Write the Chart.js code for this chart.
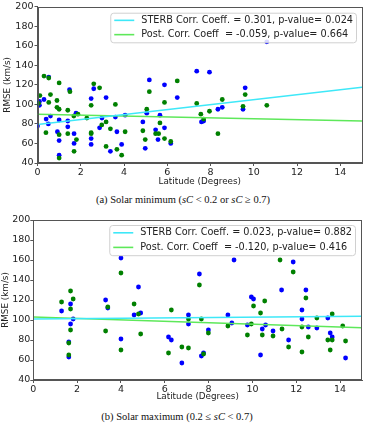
<!DOCTYPE html>
<html>
<head>
<meta charset="utf-8">
<script src="https://cdn.jsdelivr.net/npm/chart.js@4.4.1/dist/chart.umd.min.js"></script>
<style>
  body { margin: 0; background: #fff; width: 366px; height: 423px; position: relative; overflow: hidden; }
  .plot { position: absolute; left: 0; width: 366px; }
  .caption { position: absolute; left: 0; width: 366px; text-align: center; font-family: "Liberation Serif", serif; font-size: 10.5px; color: #111; line-height: 12px; }
</style>
</head>
<body>
<div class="plot" style="top:0;height:190px"><canvas id="minChart"></canvas></div>
<div class="caption" id="capA" style="top:194px">(a) Solar minimum (<i>sC</i> &lt; 0.2 or <i>sC</i> &ge; 0.7)</div>
<div class="plot" style="top:210px;height:192px"><canvas id="maxChart"></canvas></div>
<div class="caption" id="capB" style="top:411px;left:-6px">(b) Solar maximum (0.2 &le; <i>sC</i> &lt; 0.7)</div>
<script>
// axis ticks
const xTicks = [0, 2, 4, 6, 8, 10, 12, 14];
const yTicks = [40, 60, 80, 100, 120, 140, 160, 180, 200];

// (a) solar minimum: [latitude, RMSE]
const minSterb = [
  [0, 78], [0.09, 103], [0.09, 99], [0.3, 105], [0.52, 128], [0.5, 80], [0.4, 85], [0.6, 88],
  [1.0, 84], [0.92, 72], [1.0, 63], [1.0, 48], [1.4, 83], [1.4, 77], [1.48, 115], [1.69, 70],
  [1.69, 60], [1.78, 91], [2.48, 106], [2.48, 65], [2.48, 59], [2.6, 116], [3.17, 107], [2.98, 86],
  [2.87, 76], [3.37, 52], [3.6, 87], [3.67, 72], [3.89, 59], [4.05, 89], [4.87, 82], [4.98, 55],
  [5.05, 91], [5.17, 125], [5.46, 74], [5.57, 64], [5.66, 89], [5.87, 120], [5.87, 76], [6.16, 60],
  [6.46, 107], [7.36, 134], [7.95, 133], [7.58, 82], [7.68, 83], [8.34, 95], [8.54, 97], [9.5, 95],
  [9.6, 117], [10.6, 164]
];
const minPost = [
  [0.3, 129], [0.52, 127], [0.11, 109], [0.6, 110], [0.05, 101], [0.52, 102], [0.9, 104], [0.9, 97],
  [1.0, 95], [1.0, 122], [0.39, 71], [1.0, 69], [1.0, 45], [1.4, 94], [1.4, 70], [1.5, 113],
  [1.69, 52], [1.68, 88], [1.87, 90], [1.8, 64], [2.28, 86], [2.48, 99], [2.48, 71], [2.48, 70],
  [2.6, 121], [2.87, 117], [2.97, 79], [3.17, 82], [3.17, 57], [3.37, 75], [3.6, 100], [3.67, 54],
  [3.89, 48], [4.05, 72], [4.87, 73], [4.98, 64], [5.05, 95], [5.17, 113], [5.46, 70], [5.6, 70],
  [5.66, 81], [5.87, 102], [5.87, 65], [6.16, 62], [6.46, 124], [7.36, 101], [7.55, 90], [7.68, 85],
  [7.95, 93], [8.34, 70], [8.54, 105], [9.5, 98], [9.6, 110], [10.6, 99]
];
const minSterbFit = [[0, 79.5], [15, 117.5]];
const minPostFit = [[0, 90], [15, 83]];
const minLabels = ['STERB Corr. Coeff. = 0.301, p-value= 0.024', 'Post. Corr. Coeff  = -0.059, p-value= 0.664'];

// (b) solar maximum
const maxSterb = [
  [1.29, 109], [1.7, 116], [1.82, 101], [1.7, 96], [1.62, 78], [1.62, 63], [3.3, 120], [3.4, 112],
  [4.0, 162], [4.0, 81], [4.8, 133], [4.6, 105], [4.9, 107], [6.17, 83], [6.3, 80], [6.78, 57],
  [7.58, 146], [7.08, 105], [7.08, 96], [7.77, 67], [7.67, 64], [7.99, 90], [8.88, 105], [9.06, 97],
  [9.16, 160], [9.77, 95], [9.95, 123], [10.05, 121], [10.37, 65], [10.45, 91], [10.6, 95], [10.94, 89],
  [11.33, 130], [11.65, 80], [11.86, 158], [12.26, 110], [12.26, 101], [12.44, 130], [12.55, 93], [12.94, 92],
  [13.44, 102], [13.55, 87], [13.64, 83], [14.25, 62]
];
const maxPost = [
  [1.29, 118], [1.7, 129], [1.82, 121], [1.7, 111], [1.7, 90], [1.62, 77], [1.62, 65], [3.3, 89],
  [3.4, 113], [4.0, 147], [4.0, 70], [4.6, 116], [4.8, 106], [4.9, 86], [6.3, 110], [6.17, 67],
  [6.78, 73], [7.08, 72], [7.58, 135], [7.08, 101], [7.67, 101], [7.99, 87], [7.77, 66], [8.88, 94],
  [9.77, 85], [9.95, 96], [10.05, 114], [10.37, 107], [10.45, 85], [10.56, 119], [10.94, 84], [11.26, 160],
  [11.35, 91], [11.65, 73], [11.86, 148], [12.26, 93], [12.26, 68], [12.44, 122], [12.55, 83], [12.94, 102],
  [13.44, 80], [13.55, 70], [13.64, 80], [13.64, 106], [14.12, 94], [14.25, 79]
];
const maxSterbFit = [[0, 101], [15, 103.8]];
const maxPostFit = [[0, 103], [15, 92.3]];
const maxLabels = ['STERB Corr. Coeff. = 0.023, p-value= 0.882', 'Post. Corr. Coeff  = -0.120, p-value= 0.416'];

const FONT = 'DejaVu Sans';
const lineColors = ['#3ee8f8', '#5ee85a'];

const pts = arr => arr.map(p => ({ x: p[0], y: p[1] }));

// white legend box in the upper right of the plot, plus the full frame
const frameLegend = {
  id: 'frameLegend',
  afterDraw(chart) {
    const { ctx, chartArea: a } = chart;
    const o = chart.options.plugins.frameLegend;
    ctx.save();
    ctx.strokeStyle = '#555';
    ctx.lineWidth = 1;
    ctx.strokeRect(Math.round(a.left) + 0.5, Math.round(a.top) + 0.5, Math.round(a.right - a.left) - 1, Math.round(a.bottom - a.top) - 1);

    ctx.font = '9.7px "' + FONT + '"';
    const tw = Math.max(...o.labels.map(t => ctx.measureText(t).width));
    const w = tw + 34, h = o.rowGap * 2 + 1;
    const x = a.right - o.right - w, y = a.top + o.top;
    ctx.fillStyle = 'rgba(255,255,255,0.85)';
    ctx.strokeStyle = '#d0d0d0';
    ctx.beginPath();
    ctx.roundRect(x + 0.5, y + 0.5, w, h, 3);
    ctx.fill();
    ctx.stroke();
    ctx.textBaseline = 'middle';
    o.labels.forEach((t, i) => {
      const ry = y + o.rowGap * 0.5 + 0.5 + i * o.rowGap;
      ctx.strokeStyle = lineColors[i];
      ctx.lineWidth = 1.6;
      ctx.beginPath();
      ctx.moveTo(x + 4, ry);
      ctx.lineTo(x + 24, ry);
      ctx.stroke();
      ctx.fillStyle = '#222';
      ctx.fillText(t, x + 31, ry);
    });
    ctx.restore();
  }
};

function makeChart(id, sterb, post, sterbFit, postFit, labels, lay) {
  const ctx = document.getElementById(id).getContext('2d');
  return new Chart(ctx, {
    type: 'scatter',
    data: {
      datasets: [
        { type: 'line', data: pts(sterbFit), borderColor: lineColors[0], borderWidth: 1.5, pointRadius: 0, fill: false },
        { type: 'line', data: pts(postFit), borderColor: lineColors[1], borderWidth: 1.5, pointRadius: 0, fill: false },
        { data: pts(post), backgroundColor: '#008000', borderWidth: 0, pointRadius: 2.4 },
        { data: pts(sterb), backgroundColor: '#0000ff', borderWidth: 0, pointRadius: 2.4 }
      ]
    },
    options: {
      responsive: true,
      maintainAspectRatio: false,
      animation: false,
      layout: { padding: { top: lay.top, right: lay.right, left: 0, bottom: 0 } },
      plugins: {
        legend: { display: false },
        tooltip: { enabled: false },
        frameLegend: { labels: labels, top: lay.legTop, right: lay.legRight, rowGap: lay.rowGap }
      },
      scales: {
        x: {
          type: 'linear', min: 0, max: 15,
          afterBuildTicks: s => { s.ticks = xTicks.map(v => ({ value: v })); },
          afterFit: s => { s.height = lay.xHeight; },
          grid: { drawOnChartArea: false, tickLength: 3, color: '#555' },
          border: { color: '#555' },
          ticks: { font: { family: FONT, size: 9.5 }, color: '#222', padding: lay.xTickPad, maxRotation: 0 },
          title: { display: true, text: 'Latitude (Degrees)', font: { family: FONT, size: 8.8 }, color: '#222', padding: { top: 0, bottom: lay.xTitlePad } }
        },
        y: {
          min: 40, max: 200,
          afterBuildTicks: s => { s.ticks = yTicks.map(v => ({ value: v })); },
          afterFit: s => { s.width = lay.yWidth; },
          grid: { drawOnChartArea: false, tickLength: 3, color: '#555' },
          border: { color: '#555' },
          ticks: { font: { family: FONT, size: 9.5 }, color: '#222', padding: lay.yTickPad },
          title: { display: true, text: 'RMSE (km/s)', font: { family: FONT, size: 8.8 }, color: '#222', padding: { top: lay.yTitlePad, bottom: 0 } }
        }
      }
    },
    plugins: [frameLegend]
  });
}

makeChart('minChart', minSterb, minPost, minSterbFit, minPostFit, minLabels,
  { top: 3, right: 1, xHeight: 27, yWidth: 37.5, xTickPad: 1, xTitlePad: 2.6, yTickPad: 1, yTitlePad: 2, legTop: 6, legRight: 6, rowGap: 14.3 });
makeChart('maxChart', maxSterb, maxPost, maxSterbFit, maxPostFit, maxLabels,
  { top: 10, right: 2, xHeight: 22, yWidth: 33.3, xTickPad: 1, xTitlePad: 0, yTickPad: 0, yTitlePad: 0, legTop: 5, legRight: 7, rowGap: 14.6 });
</script>
</body>
</html>
